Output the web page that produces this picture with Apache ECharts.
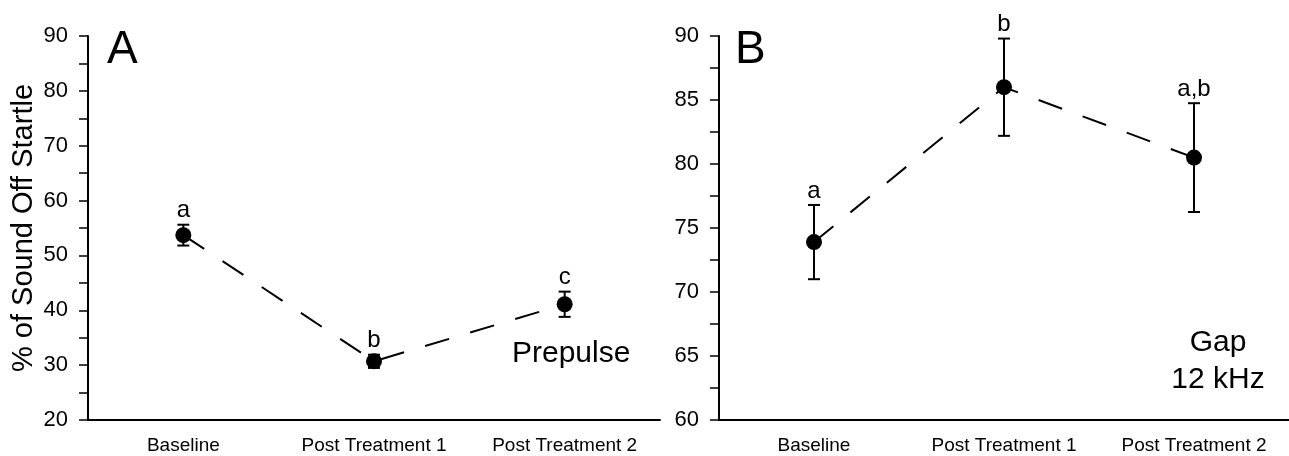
<!DOCTYPE html>
<html>
<head>
<meta charset="utf-8">
<script src="https://cdn.jsdelivr.net/npm/echarts@6/dist/echarts.min.js"></script>
<style>
  html, body { margin: 0; padding: 0; background: #fff; }
  #main { width: 1289px; height: 456px; }
</style>
</head>
<body>
<div id="main"></div>
<script>
var categories = ['Baseline', 'Post Treatment 1', 'Post Treatment 2']

// panel A: prepulse
var meanA = [53.7, 30.7, 41.1]
var errA = [1.9, 1.2, 2.3]
var lettersA = ['a', 'b', 'c']

// panel B: gap 12 kHz
var meanB = [73.9, 86.0, 80.5]
var errB = [2.9, 3.8, 4.25]
var lettersB = ['a', 'b', 'a,b']

var font = 'Liberation Sans, Arial, sans-serif'

var chart = echarts.init(document.getElementById('main'))

function yAxisOpt(idx, min, max, interval, name) {
  return {
    gridIndex: idx,
    type: 'value',
    min: min, max: max, interval: interval,
    name: name,
    nameLocation: 'middle',
    nameGap: 50,
    nameTextStyle: { fontFamily: font, fontSize: 29, color: '#000' },
    axisLine: { show: true, lineStyle: { color: '#000', width: 2 } },
    axisTick: { show: true, length: 9, lineStyle: { color: '#000', width: 1.5 } },
    minorTick: { show: true, splitNumber: 2, length: 9, lineStyle: { color: '#000', width: 1.5 } },
    axisLabel: { fontFamily: font, fontSize: 22, color: '#000', margin: 20 },
    splitLine: { show: false }
  }
}

function xAxisOpt(idx) {
  return {
    gridIndex: idx,
    type: 'category',
    data: categories,
    boundaryGap: true,
    axisLine: { lineStyle: { color: '#000', width: 2 } },
    axisTick: { alignWithLabel: true, length: 6, lineStyle: { color: '#000', width: 1.5 } },
    axisLabel: { fontFamily: font, fontSize: 19, color: '#000', margin: 16 },
    splitLine: { show: false }
  }
}

function errorSeries(idx, means, errs, letters) {
  var data = means.map(function (m, i) { return [i, m - errs[i], m + errs[i]] })
  return {
    type: 'custom',
    xAxisIndex: idx, yAxisIndex: idx,
    data: data,
    z: 3,
    renderItem: function (params, api) {
      var lo = api.coord([api.value(0), api.value(1)])
      var hi = api.coord([api.value(0), api.value(2)])
      var cap = 6
      var st = { stroke: '#000', lineWidth: 2 }
      return {
        type: 'group',
        children: [
          { type: 'line', shape: { x1: hi[0], y1: hi[1], x2: lo[0], y2: lo[1] }, style: st },
          { type: 'line', shape: { x1: hi[0] - cap, y1: hi[1], x2: hi[0] + cap, y2: hi[1] }, style: st },
          { type: 'line', shape: { x1: lo[0] - cap, y1: lo[1], x2: lo[0] + cap, y2: lo[1] }, style: st },
          {
            type: 'text', x: hi[0], y: hi[1] - 2,
            style: { text: letters[params.dataIndex], fill: '#000', font: '24px ' + font, align: 'center', verticalAlign: 'bottom' }
          }
        ]
      }
    }
  }
}

function meanSeries(idx, means) {
  return {
    type: 'line',
    xAxisIndex: idx, yAxisIndex: idx,
    data: means,
    symbol: 'circle',
    symbolSize: 16,
    z: 4,
    itemStyle: { color: '#000' },
    lineStyle: { color: '#000', width: 2, type: [25, 22] }
  }
}

var option = {
  animation: false,
  backgroundColor: '#fff',
  grid: [
    { left: 88, top: 36, width: 572, height: 384 },
    { left: 719, top: 36, width: 576, height: 384 }
  ],
  xAxis: [xAxisOpt(0), xAxisOpt(1)],
  yAxis: [
    yAxisOpt(0, 20, 90, 10, '% of Sound Off Startle'),
    yAxisOpt(1, 60, 90, 5, '')
  ],
  graphic: [
    { type: 'text', left: 107, top: 27, style: { text: 'A', font: '46px ' + font, fill: '#000' } },
    { type: 'text', left: 735, top: 27, style: { text: 'B', font: '46px ' + font, fill: '#000' } },
    { type: 'text', left: 512, top: 339, style: { text: 'Prepulse', font: '30px ' + font, fill: '#000' } },
    { type: 'text', x: 1218, y: 324, style: { text: 'Gap\n12 kHz', font: '30px ' + font, fill: '#000', align: 'center', lineHeight: 37 } }
  ],
  series: [
    errorSeries(0, meanA, errA, lettersA),
    meanSeries(0, meanA),
    errorSeries(1, meanB, errB, lettersB),
    meanSeries(1, meanB)
  ]
}

chart.setOption(option)
</script>
</body>
</html>
